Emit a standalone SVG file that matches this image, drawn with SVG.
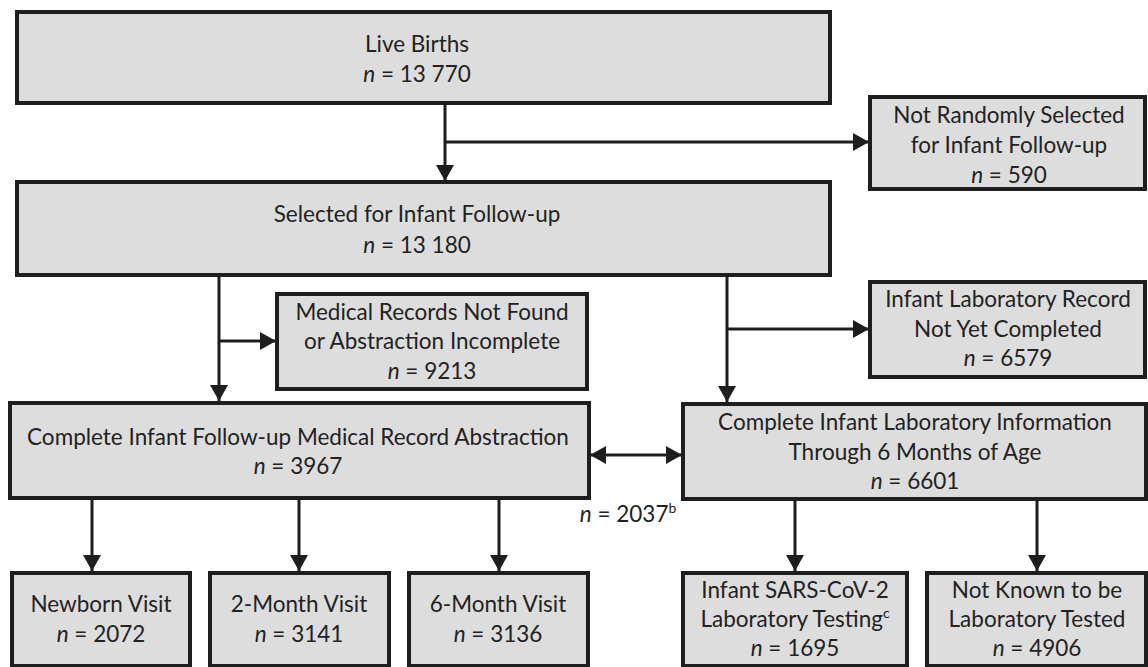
<svg xmlns="http://www.w3.org/2000/svg" width="1148" height="667" viewBox="0 0 1148 667">
<style>
.box{fill:#dddddd;stroke:#1e1e1e;stroke-width:4}
text{font-family:Lato,"Liberation Sans",sans-serif;font-size:22.5px;fill:#222;text-anchor:middle}
.i{font-style:italic}
.sup{font-size:14px}
.c{fill:none;stroke:#1e1e1e;stroke-width:3}
</style>
<defs>
<marker id="ah" viewBox="0 0 16 18" refX="16" refY="9" markerWidth="16" markerHeight="18" markerUnits="userSpaceOnUse" orient="auto-start-reverse">
<path d="M0,0 L16,9 L0,18 z" fill="#1e1e1e"/>
</marker>
</defs>
<rect width="1148" height="667" fill="#fff"/>
<g id="connectors">
<line class="c" x1="445" y1="103" x2="445" y2="181" marker-end="url(#ah)"/>
<line class="c" x1="445" y1="142" x2="869" y2="142" marker-end="url(#ah)"/>
<line class="c" x1="219" y1="275" x2="219" y2="401" marker-end="url(#ah)"/>
<line class="c" x1="219" y1="341" x2="276" y2="341" marker-end="url(#ah)"/>
<line class="c" x1="727" y1="275" x2="727" y2="402" marker-end="url(#ah)"/>
<line class="c" x1="727" y1="329" x2="869" y2="329" marker-end="url(#ah)"/>
<line class="c" x1="590" y1="455" x2="682" y2="455" marker-start="url(#ah)" marker-end="url(#ah)"/>
<line class="c" x1="92" y1="498" x2="92" y2="571" marker-end="url(#ah)"/>
<line class="c" x1="299" y1="498" x2="299" y2="571" marker-end="url(#ah)"/>
<line class="c" x1="499" y1="498" x2="499" y2="571" marker-end="url(#ah)"/>
<line class="c" x1="795" y1="499" x2="795" y2="571" marker-end="url(#ah)"/>
<line class="c" x1="1037" y1="499" x2="1037" y2="571" marker-end="url(#ah)"/>
<text x="628" y="522"><tspan class="i">n</tspan> = 2037<tspan class="sup" dy="-9">b</tspan></text>
</g>
<g id="live-births">
<rect class="box" x="17" y="12" width="813" height="91"/>
<text x="417" y="52">Live Births</text>
<text x="417" y="82"><tspan class="i">n</tspan> = 13 770</text>
</g>
<g id="not-randomly-selected">
<rect class="box" x="870" y="97" width="275" height="92"/>
<text x="1009" y="123">Not Randomly Selected</text>
<text x="1009" y="153">for Infant Follow-up</text>
<text x="1009" y="183"><tspan class="i">n</tspan> = 590</text>
</g>
<g id="selected">
<rect class="box" x="17" y="182" width="813" height="93"/>
<text x="417" y="222">Selected for Infant Follow-up</text>
<text x="417" y="253"><tspan class="i">n</tspan> = 13 180</text>
</g>
<g id="medical-records">
<rect class="box" x="277" y="294" width="310" height="95"/>
<text x="432" y="320">Medical Records Not Found</text>
<text x="432" y="349">or Abstraction Incomplete</text>
<text x="432" y="379"><tspan class="i">n</tspan> = 9213</text>
</g>
<g id="lab-record-not-completed">
<rect class="box" x="870" y="282" width="275" height="95"/>
<text x="1008" y="307">Infant Laboratory Record</text>
<text x="1008" y="337">Not Yet Completed</text>
<text x="1008" y="366"><tspan class="i">n</tspan> = 6579</text>
</g>
<g id="complete-followup">
<rect class="box" x="10" y="403" width="579" height="95"/>
<text x="298" y="445">Complete Infant Follow-up Medical Record Abstraction</text>
<text x="298" y="474"><tspan class="i">n</tspan> = 3967</text>
</g>
<g id="complete-lab">
<rect class="box" x="683" y="404" width="463" height="95"/>
<text x="915" y="430">Complete Infant Laboratory Information</text>
<text x="915" y="460">Through 6 Months of Age</text>
<text x="915" y="489"><tspan class="i">n</tspan> = 6601</text>
</g>
<g id="newborn">
<rect class="box" x="12" y="573" width="178" height="93"/>
<text x="101" y="612">Newborn Visit</text>
<text x="101" y="642"><tspan class="i">n</tspan> = 2072</text>
</g>
<g id="two-month">
<rect class="box" x="210" y="573" width="179" height="93"/>
<text x="299" y="612">2-Month Visit</text>
<text x="299" y="642"><tspan class="i">n</tspan> = 3141</text>
</g>
<g id="six-month">
<rect class="box" x="409" y="573" width="179" height="93"/>
<text x="498" y="612">6-Month Visit</text>
<text x="498" y="642"><tspan class="i">n</tspan> = 3136</text>
</g>
<g id="sars-testing">
<rect class="box" x="683" y="573" width="224" height="93"/>
<text x="795" y="598">Infant SARS-CoV-2</text>
<text x="795" y="627">Laboratory Testing<tspan class="sup" dy="-9">c</tspan></text>
<text x="795" y="656"><tspan class="i">n</tspan> = 1695</text>
</g>
<g id="not-known-tested">
<rect class="box" x="927" y="573" width="219" height="93"/>
<text x="1037" y="598">Not Known to be</text>
<text x="1037" y="627">Laboratory Tested</text>
<text x="1037" y="656"><tspan class="i">n</tspan> = 4906</text>
</g>
</svg>
